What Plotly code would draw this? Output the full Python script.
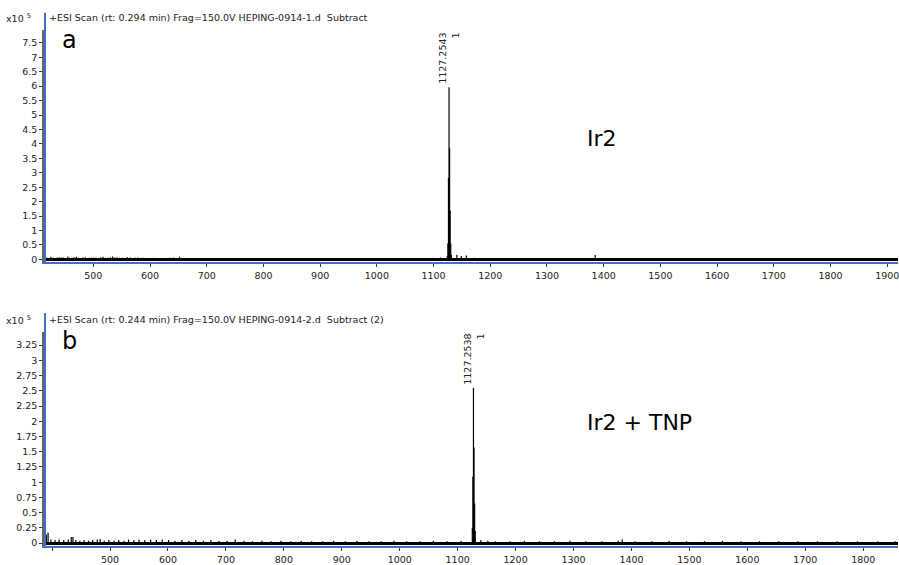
import plotly.graph_objects as go
from plotly.subplots import make_subplots

# ---------------- data ----------------
# Panel a (Ir2): isotope cluster of the main ion (x10^5 counts)
a_cluster_mz = [1124.25, 1125.25, 1126.25, 1127.2543, 1128.25, 1129.25, 1130.25, 1131.25]
a_cluster_int = [0.12, 0.55, 2.83, 5.96, 3.85, 1.69, 0.55, 0.15]
# Panel a: minor peaks / noise
a_noise_mz = [418, 421, 425, 429, 433, 437, 441, 444, 447, 451, 455, 458, 462, 466, 470, 474,
              478, 482, 486, 489, 493, 497, 501, 505, 509, 513, 517, 521, 526, 530, 534, 538,
              542, 546, 551, 555, 560, 565, 569, 574, 578, 583, 588, 592, 597, 602, 607, 612,
              618, 623, 629, 635, 641, 646, 652, 658, 664, 677,
              690, 704, 719, 733, 748, 765, 781, 799, 817, 836, 855, 875, 896, 918, 941,
              965, 990, 1016, 1043, 1071, 1099, 1112, 1141, 1149, 1158, 1172, 1195, 1221,
              1248, 1276, 1305, 1334, 1363, 1385, 1397, 1425, 1456, 1487, 1519, 1552, 1586,
              1621, 1657, 1694, 1732, 1771, 1811, 1852, 1894, 1915]
a_noise_int = [0.06, 0.05, 0.09, 0.06, 0.05, 0.07, 0.08, 0.06, 0.07, 0.05, 0.10, 0.06, 0.06,
               0.08, 0.09, 0.06, 0.05, 0.07, 0.08, 0.05, 0.06, 0.07, 0.07, 0.06, 0.05, 0.08,
               0.09, 0.06, 0.06, 0.08, 0.10, 0.07, 0.07, 0.06, 0.06, 0.05, 0.08, 0.07, 0.05,
               0.06, 0.07, 0.05, 0.06, 0.05, 0.05, 0.04, 0.06, 0.05, 0.04, 0.05, 0.05, 0.06,
               0.07, 0.05, 0.09, 0.05, 0.05, 0.04,
               0.05, 0.04, 0.04, 0.05, 0.04, 0.03, 0.04, 0.03, 0.04, 0.03, 0.04, 0.03,
               0.03, 0.04, 0.03, 0.03, 0.04, 0.03, 0.04, 0.05, 0.06, 0.07, 0.16, 0.12, 0.14, 0.06,
               0.04, 0.04, 0.03, 0.04, 0.03, 0.04, 0.05, 0.15, 0.05, 0.04, 0.03, 0.04, 0.03, 0.04,
               0.03, 0.04, 0.03, 0.04, 0.03, 0.03, 0.04, 0.03, 0.03, 0.03]

# Panel b (Ir2 + TNP)
b_cluster_mz = [1125.25, 1126.25, 1127.2538, 1128.25, 1129.25, 1130.25]
b_cluster_int = [0.25, 1.09, 2.55, 1.57, 0.65, 0.20]
b_noise_mz = [390, 393, 398, 405, 412, 420, 428, 433, 436, 441, 448, 455, 463, 470, 478, 483,
              490, 498, 507, 515, 524, 532, 541, 550, 560, 570, 580, 590, 601, 612, 624, 636,
              648, 661, 674, 688, 702, 716, 731, 746, 762, 778, 795, 812, 830, 848, 867, 886,
              906, 926, 947, 968, 990, 1012, 1035, 1058, 1082, 1106, 1140, 1152, 1165, 1190,
              1215, 1241, 1267, 1294, 1321, 1349, 1377, 1384, 1406, 1435, 1465, 1495, 1526,
              1557, 1589, 1621, 1654, 1687, 1721, 1755, 1790, 1825, 1855]
b_noise_int = [0.14, 0.17, 0.06, 0.05, 0.06, 0.05, 0.06, 0.10, 0.10, 0.05, 0.04, 0.05, 0.04, 0.05,
               0.06, 0.07, 0.04, 0.05, 0.04, 0.05, 0.04, 0.06, 0.05, 0.06, 0.05, 0.06, 0.05, 0.06,
               0.05, 0.04, 0.05, 0.04, 0.05, 0.04, 0.05, 0.04, 0.04, 0.06, 0.04, 0.03, 0.04, 0.03,
               0.04, 0.03, 0.04, 0.03, 0.03, 0.04, 0.03, 0.04, 0.03, 0.03, 0.04, 0.03, 0.03, 0.04,
               0.03, 0.04, 0.05, 0.04, 0.03, 0.03, 0.04, 0.03, 0.03, 0.04, 0.03, 0.03, 0.04, 0.06,
               0.03, 0.03, 0.04, 0.03, 0.03, 0.04, 0.03, 0.03, 0.03, 0.03, 0.03, 0.03, 0.03, 0.03, 0.03]

a_peak_label = "1127.2543"
b_peak_label = "1127.2538"
a_header = "+ESI Scan (rt: 0.294 min) Frag=150.0V HEPING-0914-1.d  Subtract"
b_header = "+ESI Scan (rt: 0.244 min) Frag=150.0V HEPING-0914-2.d  Subtract (2)"
a_tag, b_tag = "a", "b"
a_name, b_name = "Ir2", "Ir2 + TNP"

a_xticks = list(range(500, 2000, 100))
b_xticks = list(range(500, 1900, 100))
b_minor_ticks = [400]
a_yticks = [i * 0.5 for i in range(0, 16)]
b_yticks = [i * 0.25 for i in range(0, 14)]


def fmt(v):
    s = ("%.2f" % v).rstrip("0").rstrip(".")
    return s


def sticks(mz, inten):
    xs, ys = [], []
    for m, h in zip(mz, inten):
        xs += [m, m, None]
        ys += [0, h, None]
    return xs, ys


FONT = "DejaVu Sans, Liberation Sans, Arial"
BLUE = "#3f6fc6"

fig = make_subplots(rows=2, cols=1, shared_xaxes=False, vertical_spacing=0.1)

for row, (nmz, nint, cmz, cint) in enumerate(
        [(a_noise_mz, a_noise_int, a_cluster_mz, a_cluster_int),
         (b_noise_mz, b_noise_int, b_cluster_mz, b_cluster_int)], start=1):
    xs, ys = sticks(nmz + cmz, nint + cint)
    fig.add_trace(go.Scatter(x=xs, y=ys, mode="lines",
                             line=dict(color="black", width=1.2),
                             hoverinfo="skip", showlegend=False), row=row, col=1)

W, H = 899, 565
L = 44
top_dom = [1 - 265.5 / H, 1 - 30 / H]
bot_dom = [1 - 553 / H, 1 - 336 / H]

common_x = dict(showgrid=False, zeroline=False, showline=True, linecolor=BLUE, linewidth=2,
                ticks="outside", ticklen=3, tickcolor="#333", tickwidth=1,
                ticklabeloverflow="allow",
                tickfont=dict(family=FONT, size=9.5, color="#222"), mirror=False)
common_y = dict(showgrid=False, zeroline=True, zerolinecolor="black", zerolinewidth=3,
                showline=True, linecolor="#666", linewidth=1.5,
                ticks="outside", ticklen=3, tickcolor="#333", tickwidth=1,
                tickfont=dict(family=FONT, size=9.5, color="#222"))

fig.update_xaxes(range=[413, 1919], tickvals=a_xticks, ticktext=[str(t) for t in a_xticks],
                 **common_x, row=1, col=1)
fig.update_xaxes(range=[386, 1860], tickvals=b_xticks, ticktext=[str(t) for t in b_xticks],
                 minor=dict(tickvals=b_minor_ticks, ticks="outside", ticklen=3,
                            tickcolor="#333", tickwidth=1, showgrid=False),
                 **common_x, row=2, col=1)
fig.update_yaxes(range=[-0.096, 7.957], domain=top_dom, tickvals=a_yticks,
                 ticktext=[fmt(t) for t in a_yticks], **common_y, row=1, col=1)
fig.update_yaxes(range=[-0.049, 3.468], domain=bot_dom, tickvals=b_yticks,
                 ticktext=[fmt(t) for t in b_yticks], **common_y, row=2, col=1)

def px(x):
    return (x - L) / (W - L)

def py(y):
    return 1 - y / H

shapes = []
for y0, y1 in [(13, 267), (317, 555)]:
    shapes.append(dict(type="line", xref="paper", yref="paper", x0=px(45), x1=px(45),
                       y0=py(y1), y1=py(y0), line=dict(color=BLUE, width=2)))
fig.update_layout(shapes=shapes)

ann = []
for hy, header, tag, ty, name, ny in [(18, a_header, a_tag, 40, a_name, 140),
                                       (324, b_header, b_tag, 345, b_name, 428)]:
    ann.append(dict(x=px(4), y=py(hy), xref="paper", yref="paper", xanchor="left",
                    yanchor="middle", showarrow=False, text="x10 <sup>5</sup>",
                    font=dict(family=FONT, size=9.5, color="#222")))
    ann.append(dict(x=px(47), y=py(hy), xref="paper", yref="paper", xanchor="left",
                    yanchor="middle", showarrow=False, text=header,
                    font=dict(family=FONT, size=9.5, color="#222")))
    ann.append(dict(x=px(60), y=py(ty), xref="paper", yref="paper", xanchor="left",
                    yanchor="middle", showarrow=False, text=tag,
                    font=dict(family=FONT, size=24, color="black")))
    ann.append(dict(x=px(586), y=py(ny), xref="paper", yref="paper", xanchor="left",
                    yanchor="middle", showarrow=False, text=name,
                    font=dict(family=FONT, size=22, color="black")))

for xr, yr, mz, h, lab in [("x", "y", a_cluster_mz[3], a_cluster_int[3], a_peak_label),
                           ("x2", "y2", b_cluster_mz[2], b_cluster_int[2], b_peak_label)]:
    ann.append(dict(x=mz, y=h, xref=xr, yref=yr, xanchor="center", yanchor="bottom",
                    showarrow=False, textangle=-90, align="right",
                    text=lab + "<br>1", yshift=1,
                    font=dict(family=FONT, size=9.5, color="#222")))

fig.update_layout(annotations=ann, width=W, height=H,
                  margin=dict(l=L, r=0, t=0, b=0),
                  plot_bgcolor="white", paper_bgcolor="white", showlegend=False)

fig.write_html("out.html")
